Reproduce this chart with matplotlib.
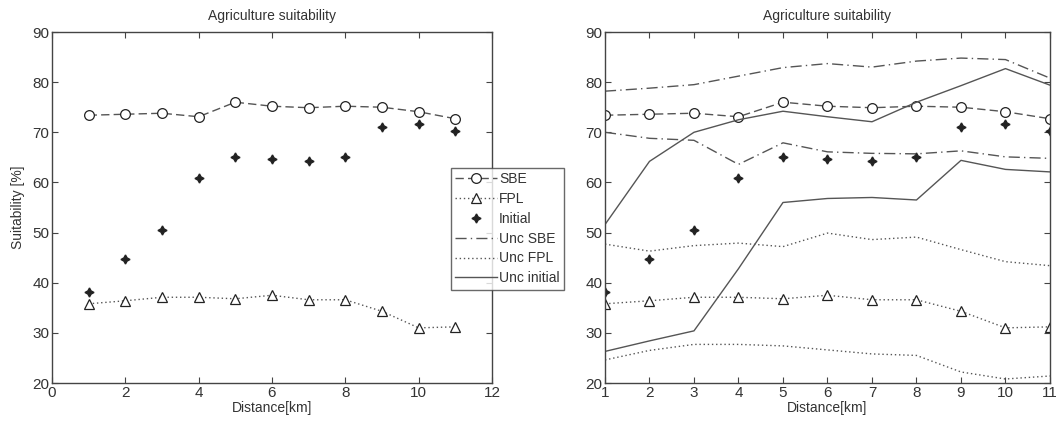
import numpy as np
import matplotlib
matplotlib.use('Agg')
import matplotlib.pyplot as plt

plt.rcParams['font.family'] = ['Liberation Sans', 'DejaVu Sans']

dist = np.arange(1, 12)

sbe = [73.4, 73.6, 73.8, 73.1, 76.0, 75.2, 74.9, 75.2, 75.0, 74.1, 72.7]
fpl = [35.8, 36.4, 37.1, 37.1, 36.8, 37.5, 36.6, 36.6, 34.3, 31.0, 31.2]
initial = [38.2, 44.7, 50.6, 60.9, 65.1, 64.7, 64.2, 65.1, 71.0, 71.6, 70.2]

unc_sbe_hi = [78.2, 78.8, 79.5, 81.2, 82.9, 83.7, 83.0, 84.2, 84.8, 84.5, 80.8]
unc_sbe_lo = [70.0, 68.8, 68.4, 63.6, 67.9, 66.1, 65.8, 65.7, 66.3, 65.1, 64.8]
unc_fpl_hi = [47.7, 46.3, 47.4, 47.9, 47.2, 49.9, 48.6, 49.1, 46.6, 44.2, 43.4]
unc_fpl_lo = [24.6, 26.5, 27.7, 27.7, 27.4, 26.6, 25.8, 25.5, 22.2, 20.8, 21.4]
unc_init_hi = [51.6, 64.2, 70.0, 72.5, 74.2, 73.1, 72.1, 76.0, 79.3, 82.7, 79.4]
unc_init_lo = [26.3, 28.4, 30.4, 42.8, 56.0, 56.8, 57.0, 56.5, 64.4, 62.6, 62.1]

line_col = '#555555'
mk_col = '#222222'
txt_col = '#333333'

fig = plt.figure(figsize=(10.56, 4.25), dpi=100)
ax1 = fig.add_axes([0.0492, 0.0988, 0.4167, 0.8259])
ax2 = fig.add_axes([0.5729, 0.0988, 0.4214, 0.8259])

star = (4, 1, 0)


def base_series(ax):
    h1, = ax.plot(dist, sbe, linestyle=(0, (6, 3)), color=line_col, lw=1,
                  marker='o', ms=7, mfc='white', mec=mk_col, mew=0.9, label='SBE')
    h2, = ax.plot(dist, fpl, linestyle=(0, (1, 2)), color=line_col, lw=1,
                  marker='^', ms=7, mfc='white', mec=mk_col, mew=0.9, label='FPL')
    h3, = ax.plot(dist, initial, linestyle='none', marker=star, ms=6.5,
                  color=mk_col, label='Initial')
    return [h1, h2, h3]


base_series(ax1)
hs = base_series(ax2)

h4, = ax2.plot(dist, unc_sbe_hi, linestyle=(0, (8, 3, 1, 3)), color=line_col,
               lw=1, label='Unc SBE')
ax2.plot(dist, unc_sbe_lo, linestyle=(0, (8, 3, 1, 3)), color=line_col, lw=1)
h5, = ax2.plot(dist, unc_fpl_hi, linestyle=(0, (1, 2)), color=line_col,
               lw=1, label='Unc FPL')
ax2.plot(dist, unc_fpl_lo, linestyle=(0, (1, 2)), color=line_col, lw=1)
h6, = ax2.plot(dist, unc_init_hi, linestyle='-', color=line_col,
               lw=1, label='Unc initial')
ax2.plot(dist, unc_init_lo, linestyle='-', color=line_col, lw=1)

ax1.set_xlim(0, 12)
ax1.set_xticks(range(0, 13, 2))
ax2.set_xlim(1, 11)
ax2.set_xticks(range(1, 12))

for ax in (ax1, ax2):
    ax.set_ylim(20, 90)
    ax.set_yticks(range(20, 91, 10))
    ax.set_title('Agriculture suitability', fontsize=10, color=txt_col, pad=9)
    ax.set_xlabel('Distance[km]', fontsize=10, color=txt_col, labelpad=1)
    ax.tick_params(direction='in', top=True, right=True, length=4,
                   labelsize=11, colors='#444444', labelcolor=txt_col, pad=2)
    for sp in ax.spines.values():
        sp.set_color('#444444')
        sp.set_linewidth(1)

ax1.set_ylabel('Suitability [%]', fontsize=10, color=txt_col, labelpad=5)

leg = fig.legend(hs + [h4, h5, h6], ['SBE', 'FPL', 'Initial', 'Unc SBE',
                                     'Unc FPL', 'Unc initial'],
                 loc='upper left', bbox_to_anchor=(451 / 1056, 1 - 168 / 425),
                 fontsize=10, frameon=True, fancybox=False, handlelength=3.0,
                 handletextpad=0.15, labelspacing=0.42, borderpad=0.3,
                 borderaxespad=0, labelcolor=txt_col)
leg.get_frame().set_edgecolor('#444444')
leg.get_frame().set_linewidth(1)

fig.savefig('out.png', dpi=100, facecolor='white')
